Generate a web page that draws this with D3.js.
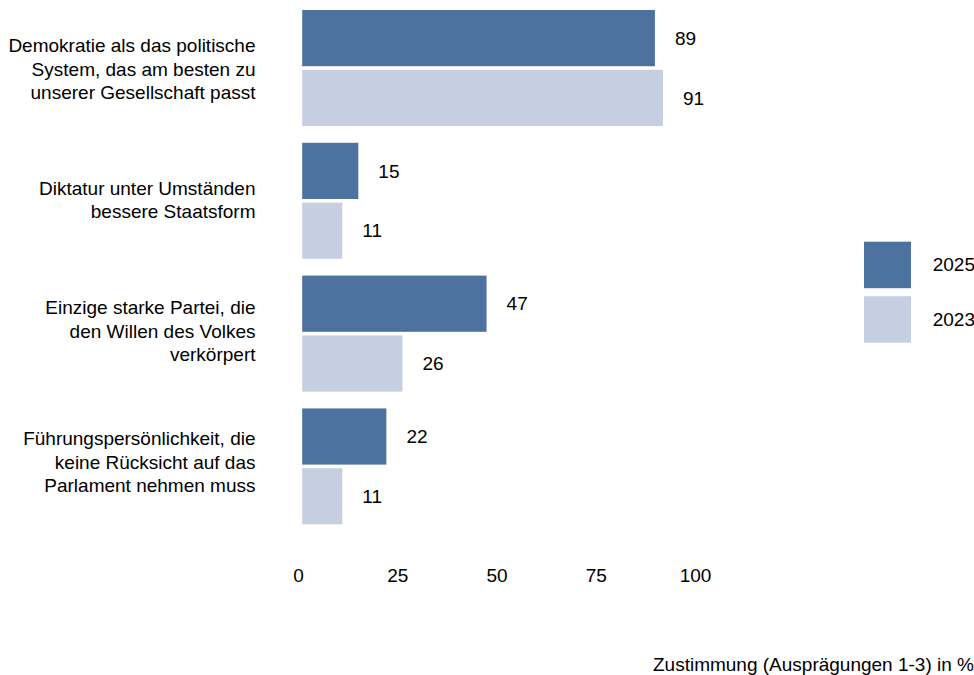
<!DOCTYPE html>
<html>
<head>
<meta charset="utf-8">
<script src="https://cdn.jsdelivr.net/npm/d3@7"></script>
<style>
  html, body { margin: 0; padding: 0; background: #fff; }
  svg { display: block; font-family: "Liberation Sans", Arial, sans-serif; }
</style>
</head>
<body>
<svg id="chart" width="974" height="675"></svg>
<script>
// ---- data ----
const categories = [
  ["Demokratie als das politische", "System, das am besten zu", "unserer Gesellschaft passt"],
  ["Diktatur unter Umständen", "bessere Staatsform"],
  ["Einzige starke Partei, die", "den Willen des Volkes", "verkörpert"],
  ["Führungspersönlichkeit, die", "keine Rücksicht auf das", "Parlament nehmen muss"]
];
const seriesNames = ["2025", "2023"];
const values2025 = [89, 15, 47, 22];
const values2023 = [91, 11, 26, 11];
const tickValues = [0, 25, 50, 75, 100];
const axisTitle = "Zustimmung (Ausprägungen 1-3) in %";
const colors = ["#4E72A0", "#C6CFE2"];

// ---- layout ----
const fontSize = 19;
const lineHeight = 23.4;
const svg = d3.select("#chart");

const catKeys = categories.map((c, i) => "c" + i);
const y = d3.scaleBand().domain(catKeys).range([10, 524.4]).paddingInner(0.1265).paddingOuter(0);
const yLabel = d3.scalePoint().domain(catKeys).range([69, 462]);
const ySub = d3.scaleBand().domain(seriesNames).range([0, y.bandwidth()]).paddingInner(0.06);
const x = d3.scaleLinear().domain([0, 100]).range([298.2, 699]);
const xAxisScale = d3.scaleLinear().domain([0, 100]).range([298, 695]);
const barInset = 4;
const color = d3.scaleOrdinal().domain(seriesNames).range(colors);

const rows = categories.map((c, i) => ({
  key: catKeys[i], lines: c,
  vals: [{s: "2025", v: values2025[i]}, {s: "2023", v: values2023[i]}]
}));

const g = svg.selectAll("g.grp").data(rows).join("g")
  .attr("class", "grp")
  .attr("transform", d => `translate(0,${y(d.key)})`);

g.selectAll("rect").data(d => d.vals).join("rect")
  .attr("x", x(0) + barInset)
  .attr("y", d => ySub(d.s))
  .attr("width", d => x(d.v) - x(0) - barInset)
  .attr("height", ySub.bandwidth())
  .attr("fill", d => color(d.s));

g.selectAll("text.val").data(d => d.vals).join("text")
  .attr("class", "val")
  .attr("x", d => x(d.v) + 20)
  .attr("y", d => ySub(d.s) + ySub.bandwidth() / 2)
  .attr("dy", "0.35em")
  .attr("font-size", fontSize)
  .attr("fill", "#000")
  .text(d => d.v);

// category labels
const lbl = svg.selectAll("text.cat").data(rows).join("text")
  .attr("class", "cat")
  .attr("text-anchor", "end")
  .attr("font-size", fontSize)
  .attr("fill", "#000")
  .attr("transform", d => `translate(255.5,${yLabel(d.key)})`);
lbl.selectAll("tspan").data(d => d.lines.map((t, j) => ({t, j, n: d.lines.length}))).join("tspan")
  .attr("x", 0)
  .attr("y", d => (d.j - (d.n - 1) / 2) * lineHeight)
  .attr("dy", "0.35em")
  .text(d => d.t);

// x axis (labels only)
const axis = d3.axisBottom(xAxisScale).tickValues(tickValues).tickSize(0).tickPadding(0);
const ax = svg.append("g").attr("transform", "translate(0,568)").call(axis);
ax.select(".domain").remove();
ax.selectAll("text").attr("font-size", fontSize).attr("font-family", "Liberation Sans, Arial, sans-serif").attr("fill", "#000");

// axis title
svg.append("text")
  .attr("x", 974).attr("y", 671)
  .attr("text-anchor", "end")
  .attr("font-size", fontSize).attr("fill", "#000")
  .text(axisTitle);

// legend
const leg = svg.selectAll("g.leg").data(seriesNames).join("g")
  .attr("class", "leg")
  .attr("transform", (d, i) => `translate(864,${241.7 + i * 54.5})`);
leg.append("rect").attr("width", 47).attr("height", 46.5).attr("fill", d => color(d));
leg.append("text").attr("x", 68.7).attr("y", 23).attr("dy", "0.35em")
  .attr("font-size", fontSize).attr("fill", "#000").text(d => d);
</script>
</body>
</html>
